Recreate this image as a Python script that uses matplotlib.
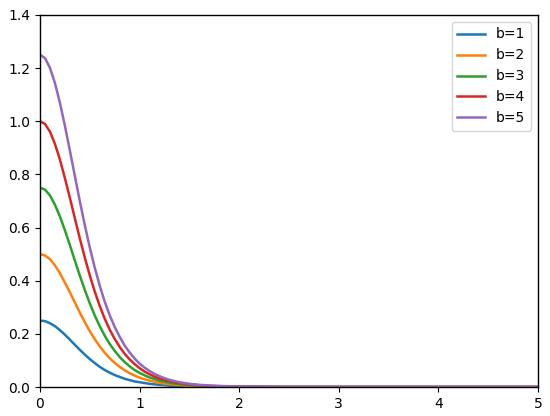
import matplotlib
matplotlib.use("Agg")
import matplotlib.pyplot as plt

# values, same x grid for every curve
x_vals = [0.00, 0.05, 0.10, 0.15, 0.20, 0.25, 0.30, 0.35, 0.40, 0.45,
          0.50, 0.55, 0.60, 0.65, 0.70, 0.75, 0.80, 0.85, 0.90, 0.95,
          1.00, 1.05, 1.10, 1.15, 1.20, 1.25, 1.30, 1.35, 1.40, 1.45,
          1.50, 1.6, 1.7, 1.8, 1.9, 2.0, 2.5, 3.0, 4.0, 5.0]

b1 = [0.250, 0.248, 0.240, 0.229, 0.214, 0.197, 0.178, 0.159, 0.140, 0.122,
      0.105, 0.090, 0.076, 0.064, 0.054, 0.045, 0.038, 0.031, 0.026, 0.021,
      0.018, 0.015, 0.012, 0.010, 0.008, 0.007, 0.005, 0.004, 0.004, 0.003,
      0.002, 0.002, 0.001, 0.001, 0.000, 0.000, 0.0, 0.0, 0.0, 0.0]
b2 = [0.500, 0.495, 0.481, 0.458, 0.428, 0.393, 0.356, 0.318, 0.280, 0.244,
      0.210, 0.180, 0.153, 0.129, 0.108, 0.091, 0.076, 0.063, 0.052, 0.043,
      0.035, 0.029, 0.024, 0.020, 0.016, 0.013, 0.011, 0.009, 0.007, 0.006,
      0.005, 0.003, 0.002, 0.002, 0.001, 0.001, 0.0, 0.0, 0.0, 0.0]
b3 = [0.750, 0.743, 0.721, 0.686, 0.642, 0.590, 0.534, 0.476, 0.419, 0.365,
      0.315, 0.269, 0.229, 0.193, 0.162, 0.136, 0.113, 0.094, 0.078, 0.064,
      0.053, 0.044, 0.036, 0.030, 0.024, 0.020, 0.016, 0.013, 0.011, 0.009,
      0.007, 0.005, 0.003, 0.002, 0.002, 0.001, 0.0, 0.0, 0.0, 0.0]
b4 = [1.000, 0.990, 0.961, 0.915, 0.856, 0.786, 0.712, 0.635, 0.559, 0.487,
      0.420, 0.359, 0.305, 0.257, 0.216, 0.181, 0.151, 0.125, 0.104, 0.086,
      0.071, 0.058, 0.048, 0.039, 0.032, 0.027, 0.022, 0.018, 0.015, 0.012,
      0.010, 0.007, 0.004, 0.003, 0.002, 0.001, 0.0, 0.0, 0.0, 0.0]
b5 = [1.250, 1.238, 1.201, 1.144, 1.070, 0.983, 0.890, 0.794, 0.699, 0.609,
      0.525, 0.449, 0.381, 0.321, 0.270, 0.226, 0.189, 0.156, 0.130, 0.107,
      0.088, 0.073, 0.060, 0.049, 0.041, 0.033, 0.027, 0.022, 0.018, 0.015,
      0.012, 0.008, 0.006, 0.004, 0.003, 0.002, 0.0, 0.0, 0.0, 0.0]

series = [("b=1", b1), ("b=2", b2), ("b=3", b3), ("b=4", b4), ("b=5", b5)]

plt.rcParams["axes.linewidth"] = 1.0

fig = plt.figure(figsize=(5.5, 4.16), dpi=100)
ax = fig.add_axes([0.0727, 0.0697, 0.9055, 0.8943])

for lbl, ys in series:
    ax.plot(x_vals, ys, label=lbl, linewidth=1.8)

ax.set_xlim(0, 5)
ax.set_ylim(0, 1.4)
ax.legend(loc="upper right")

fig.savefig("out.png", dpi=100, facecolor="white")
